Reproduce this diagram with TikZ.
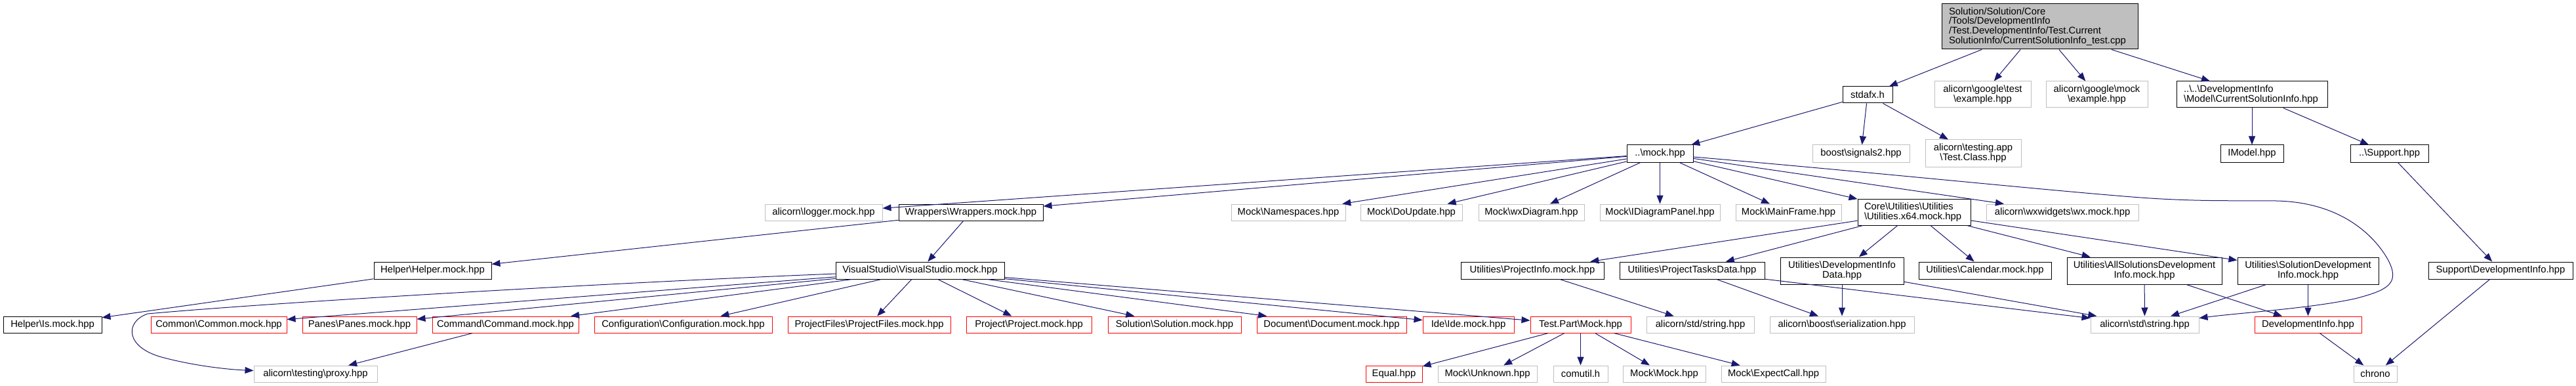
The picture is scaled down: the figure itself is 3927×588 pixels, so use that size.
\documentclass[tikz,border=0pt]{standalone}
\usepackage{fontspec}
\setmainfont{Liberation Sans}
\usetikzlibrary{arrows.meta}
\definecolor{edgecol}{HTML}{191970}
\definecolor{gborder}{HTML}{BFBFBF}
\definecolor{rborder}{HTML}{FF0000}
\definecolor{rootfill}{HTML}{BFBFBF}
\newcommand{\bsl}{\textbackslash}
\newcommand{\mknode}[7]{\node[#2,minimum width=#5pt,minimum height=#6pt] (#1) at (#3,#4) {#7};}
\tikzset{
  basebox/.style={draw, rectangle, fill=white, inner sep=0pt, align=center,
    font=\fontsize{14.8pt}{14.8pt}\selectfont, line width=1pt, text=black},
  bbox/.style={basebox, draw=black},
  gbox/.style={basebox, draw=gborder},
  rbox/.style={basebox, draw=rborder},
  rootbox/.style={basebox, draw=black, fill=rootfill, align=left},
  leftbox/.style={basebox, draw=black, align=left},
  edge/.style={draw=edgecol, line width=1pt, -{Triangle[length=13pt,width=10pt]}},
}
\begin{document}
\begin{tikzpicture}[x=1pt,y=-1pt]
\useasboundingbox (0,0) rectangle (3927,588);
% top
\node[rootbox, text width=277pt, inner xsep=11pt, minimum height=69pt] (root) at (3109.5,40.5)
  {Solution/Solution/Core\\/Tools/DevelopmentInfo\\/Test.DevelopmentInfo/Test.Current\\SolutionInfo/CurrentSolutionInfo\_test.cpp};
\mknode{stdafx}{bbox}{2847}{144.5}{76}{25}{stdafx.h}
\mknode{gtest}{gbox}{3022.5}{144}{147}{40}{alicorn\bsl google\bsl test\\\bsl example.hpp}
\mknode{gmock}{gbox}{3196.5}{144}{155}{40}{alicorn\bsl google\bsl mock\\\bsl example.hpp}
\node[leftbox, text width=208pt, inner xsep=11pt, minimum height=40pt] (csi) at (3433,144)
  {..\bsl ..\bsl DevelopmentInfo\\\bsl Model\bsl CurrentSolutionInfo.hpp};
\mknode{mockhpp}{bbox}{2530.5}{234}{101}{26}{..\bsl mock.hpp}
\mknode{signals}{gbox}{2837}{234}{148}{26}{boost\bsl signals2.hpp}
\mknode{testclass}{gbox}{3008}{233.5}{146}{41}{alicorn\bsl testing.app\\\bsl Test.Class.hpp}
\mknode{imodel}{bbox}{3433}{234}{96}{26}{IModel.hpp}
\mknode{support}{bbox}{3642.5}{234}{119}{26}{..\bsl Support.hpp}
% row 3
\mknode{logger}{gbox}{1255.5}{323.5}{179}{25}{alicorn\bsl logger.mock.hpp}
\mknode{wrappers}{bbox}{1480}{323.5}{220}{25}{Wrappers\bsl Wrappers.mock.hpp}
\mknode{namespaces}{gbox}{1964}{323.5}{174}{25}{Mock\bsl Namespaces.hpp}
\mknode{doupdate}{gbox}{2151.5}{323.5}{155}{25}{Mock\bsl DoUpdate.hpp}
\mknode{wxdiagram}{gbox}{2334.5}{323.5}{161}{25}{Mock\bsl wxDiagram.hpp}
\mknode{idiag}{gbox}{2530.5}{323.5}{183}{25}{Mock\bsl IDiagramPanel.hpp}
\mknode{mainframe}{gbox}{2726.5}{323.5}{161}{25}{Mock\bsl MainFrame.hpp}
\node[leftbox, text width=152pt, inner xsep=10pt, minimum height=40pt] (utilx64) at (2918,323)
  {Core\bsl Utilities\bsl Utilities\\\bsl Utilities.x64.mock.hpp};
\mknode{wx}{gbox}{3144}{323.5}{232}{25}{alicorn\bsl wxwidgets\bsl wx.mock.hpp}
% row 4
\mknode{helper}{bbox}{659.5}{412}{179}{26}{Helper\bsl Helper.mock.hpp}
\mknode{vs}{bbox}{1402.5}{412}{257}{26}{VisualStudio\bsl VisualStudio.mock.hpp}
\mknode{projinfo}{bbox}{2336}{412}{218}{26}{Utilities\bsl ProjectInfo.mock.hpp}
\mknode{ptd}{bbox}{2579.5}{412}{221}{26}{Utilities\bsl ProjectTasksData.hpp}
\mknode{did}{bbox}{2808}{412.5}{188}{41}{Utilities\bsl DevelopmentInfo\\Data.hpp}
\mknode{calendar}{bbox}{3026}{412}{202}{26}{Utilities\bsl Calendar.mock.hpp}
\mknode{allsol}{bbox}{3269}{412.5}{236}{41}{Utilities\bsl AllSolutionsDevelopment\\Info.mock.hpp}
\mknode{soldev}{bbox}{3518.5}{412.5}{215}{41}{Utilities\bsl SolutionDevelopment\\Info.mock.hpp}
\mknode{supdev}{bbox}{3812}{412}{220}{26}{Support\bsl DevelopmentInfo.hpp}
% row 5
\mknode{is}{bbox}{80}{494.5}{150}{25}{Helper\bsl Is.mock.hpp}
\mknode{common}{rbox}{333.5}{494.5}{207}{25}{Common\bsl Common.mock.hpp}
\mknode{panes}{rbox}{548}{494.5}{174}{25}{Panes\bsl Panes.mock.hpp}
\mknode{command}{rbox}{770.5}{494.5}{223}{25}{Command\bsl Command.mock.hpp}
\mknode{config}{rbox}{1041.5}{494.5}{271}{25}{Configuration\bsl Configuration.mock.hpp}
\mknode{projfiles}{rbox}{1325}{494.5}{248}{25}{ProjectFiles\bsl ProjectFiles.mock.hpp}
\mknode{project}{rbox}{1568.5}{494.5}{191}{25}{Project\bsl Project.mock.hpp}
\mknode{solution}{rbox}{1790.5}{494.5}{203}{25}{Solution\bsl Solution.mock.hpp}
\mknode{document}{rbox}{2030}{494.5}{228}{25}{Document\bsl Document.mock.hpp}
\mknode{ide}{rbox}{2238.5}{494.5}{139}{25}{Ide\bsl Ide.mock.hpp}
\mknode{testpart}{rbox}{2409.5}{494.5}{153}{25}{Test.Part\bsl Mock.hpp}
\mknode{slstring}{gbox}{2592}{494.5}{164}{25}{alicorn/std/string.hpp}
\mknode{serial}{gbox}{2808}{494.5}{220}{25}{alicorn\bsl boost\bsl serialization.hpp}
\mknode{stdstring}{gbox}{3269.5}{494.5}{165}{25}{alicorn\bsl std\bsl string.hpp}
\mknode{devinfo}{rbox}{3518.5}{494.5}{163}{25}{DevelopmentInfo.hpp}
% row 6
\mknode{proxy}{gbox}{481}{569.5}{188}{25}{alicorn\bsl testing\bsl proxy.hpp}
\mknode{equal}{rbox}{2125}{569.5}{86}{25}{Equal.hpp}
\mknode{unknown}{gbox}{2267.5}{569.5}{151}{25}{Mock\bsl Unknown.hpp}
\mknode{comutil}{gbox}{2409.5}{569.5}{83}{25}{comutil.h}
\mknode{mockmock}{gbox}{2537}{569.5}{126}{25}{Mock\bsl Mock.hpp}
\mknode{expectcall}{gbox}{2703.5}{569.5}{159}{25}{Mock\bsl ExpectCall.hpp}
\mknode{chrono}{gbox}{3621}{569.5}{66}{25}{chrono}
% edges
\foreach \t in {stdafx,gtest,gmock,csi} \draw[edge] (root) -- (\t);
\foreach \t in {mockhpp,signals,testclass} \draw[edge] (stdafx) -- (\t);
\foreach \t in {imodel,support} \draw[edge] (csi) -- (\t);
\draw[edge] (support) -- (supdev);
\draw[edge] (supdev) -- (chrono);
\draw[edge] (devinfo) -- (chrono);
\foreach \t in {logger,wrappers,namespaces,doupdate,wxdiagram,idiag,mainframe,utilx64,wx} \draw[edge] (mockhpp) -- (\t);
\draw[edge] ([yshift=-5pt]mockhpp.east) .. controls (2850,262) and (3100,288) .. (3250,300)
  .. controls (3350,308) and (3420,305) .. (3470,306)
  .. controls (3570,308) and (3620,360) .. (3640,395)
  .. controls (3660,432) and (3640,442) .. (3590,455)
  .. controls (3520,470) and (3420,476) .. ([yshift=-3pt]stdstring.north east);
\draw[edge] (wrappers) -- (helper);
\draw[edge] (wrappers) -- (vs);
\draw[edge] (helper) -- (is);
\foreach \t in {common,panes,command,config,projfiles,project,solution,document,ide,testpart} \draw[edge] (vs) -- (\t);
\draw[edge] ([yshift=-5pt]vs.west) .. controls (900,432) and (400,462) .. (225,478)
  .. controls (190,490) and (190,530) .. (250,545)
  .. controls (300,558) and (350,563) .. ([yshift=5pt]proxy.west);
\draw[edge] (command) -- (proxy);
\foreach \t in {equal,unknown,comutil,mockmock,expectcall} \draw[edge] (testpart) -- (\t);
\foreach \t in {projinfo,ptd,did,calendar,allsol,soldev} \draw[edge] (utilx64) -- (\t);
\draw[edge] (projinfo) -- (slstring);
\draw[edge] (ptd) -- (serial);
\draw[edge] (ptd) -- (stdstring);
\draw[edge] (did) -- (serial);
\draw[edge] (did) -- (stdstring);
\draw[edge] (allsol) -- (stdstring);
\draw[edge] (allsol) -- (devinfo);
\draw[edge] (soldev) -- (stdstring);
\draw[edge] (soldev) -- (devinfo);
\end{tikzpicture}
\end{document}
